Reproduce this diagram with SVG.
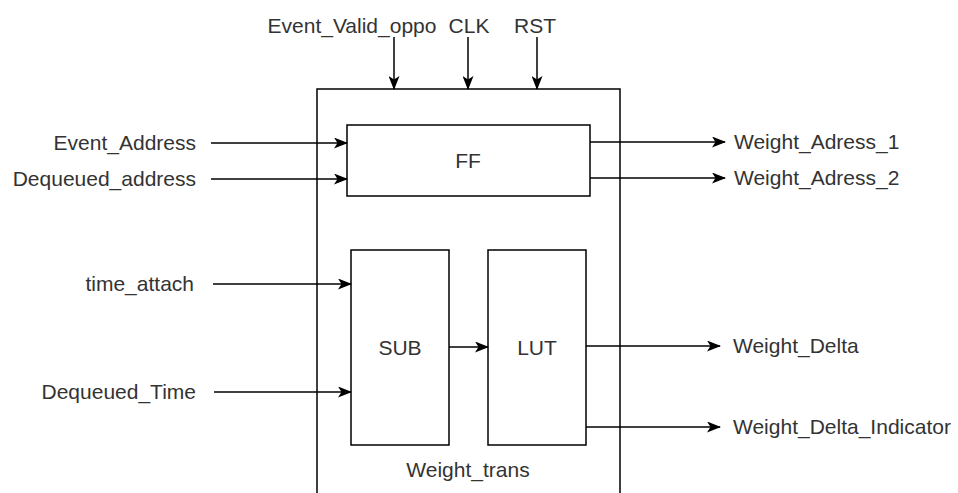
<svg xmlns="http://www.w3.org/2000/svg" width="958" height="493" viewBox="0 0 958 493">
<style>
.box{fill:#fff;stroke:#000;stroke-width:1.5}
.t{font-family:"Liberation Sans",Arial,sans-serif;font-size:21px;fill:#333}
.c{stroke:#000;stroke-width:1.5;fill:none;marker-end:url(#arr)}
</style>
<defs>
<marker id="arr" markerUnits="userSpaceOnUse" viewBox="0 0 14 11" refX="13" refY="5.5" markerWidth="14" markerHeight="11" orient="auto">
<path d="M0,0 L14,5.5 L0,11 L3.5,5.5 Z" fill="#000"/>
</marker>
</defs>
<g id="weight_trans">
<rect class="box" x="317" y="89" width="303" height="420"/>
<text class="t" x="468" y="477" text-anchor="middle">Weight_trans</text>
</g>
<g id="ff">
<rect class="box" x="347" y="125" width="243" height="71"/>
<text class="t" x="468" y="168" text-anchor="middle">FF</text>
</g>
<g id="sub">
<rect class="box" x="351" y="250" width="98" height="195"/>
<text class="t" x="400" y="355" text-anchor="middle">SUB</text>
</g>
<g id="lut">
<rect class="box" x="488" y="250" width="98" height="195"/>
<text class="t" x="537" y="355" text-anchor="middle">LUT</text>
</g>
<g id="labels">
<text class="t" x="352" y="33" text-anchor="middle">Event_Valid_oppo</text>
<text class="t" x="469" y="33" text-anchor="middle">CLK</text>
<text class="t" x="535" y="33" text-anchor="middle">RST</text>
<text class="t" x="196" y="150" text-anchor="end">Event_Address</text>
<text class="t" x="196" y="186" text-anchor="end">Dequeued_address</text>
<text class="t" x="194" y="291" text-anchor="end">time_attach</text>
<text class="t" x="196" y="399" text-anchor="end">Dequeued_Time</text>
<text class="t" x="734" y="149">Weight_Adress_1</text>
<text class="t" x="734" y="185">Weight_Adress_2</text>
<text class="t" x="733" y="353">Weight_Delta</text>
<text class="t" x="733" y="434">Weight_Delta_Indicator</text>
</g>
<g id="connectors">
<path class="c" d="M394,37 V89"/>
<path class="c" d="M468,37 V89"/>
<path class="c" d="M537,37 V89"/>
<path class="c" d="M211,143 H347"/>
<path class="c" d="M211,179 H347"/>
<path class="c" d="M213,284 H351"/>
<path class="c" d="M214,392 H351"/>
<path class="c" d="M449,347 H488"/>
<path class="c" d="M590,142 H725"/>
<path class="c" d="M590,178 H725"/>
<path class="c" d="M586,346 H720"/>
<path class="c" d="M586,427 H720"/>
</g>
</svg>
